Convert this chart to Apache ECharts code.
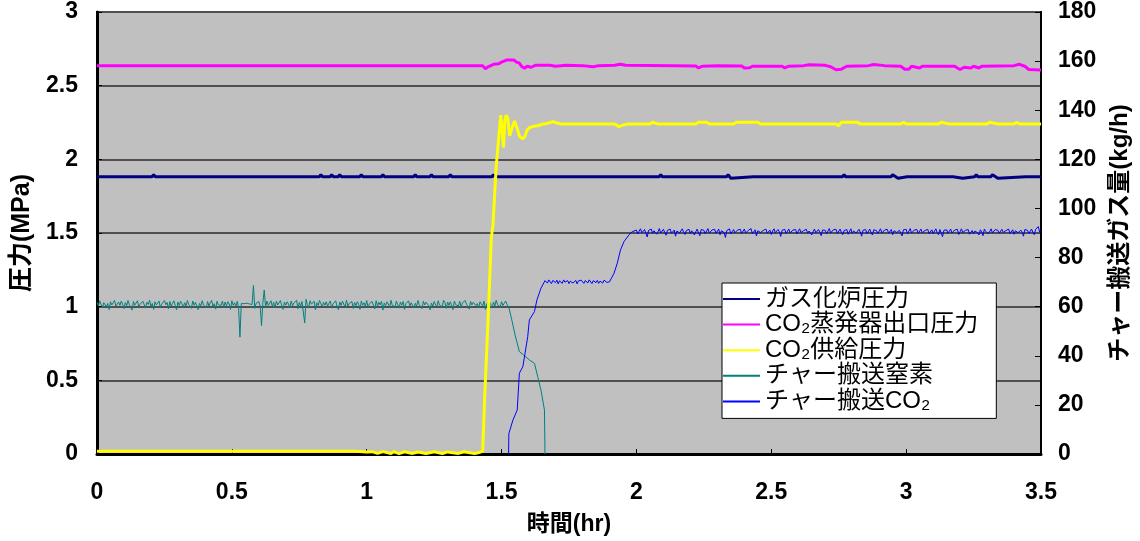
<!DOCTYPE html>
<html>
<head>
<meta charset="utf-8">
<script src="https://cdn.jsdelivr.net/npm/echarts@6/dist/echarts.min.js"></script>
<style>
html,body{margin:0;padding:0;background:#fff;}
#chart{width:1140px;height:541px;}
</style>
</head>
<body>
<div id="chart"></div>
<script>
// ---------------- DATA ----------------
const seriesNames = ['ガス化炉圧力', 'CO₂蒸発器出口圧力', 'CO₂供給圧力', 'チャー搬送窒素', 'チャー搬送CO₂'];
const xTicks = [0, 0.5, 1, 1.5, 2, 2.5, 3, 3.5];          // 時間(hr)
const leftTicks = [0, 0.5, 1, 1.5, 2, 2.5, 3];            // 圧力(MPa)
const rightTicks = [0, 20, 40, 60, 80, 100, 120, 140, 160, 180]; // kg/h

// ガス化炉圧力 [hr, MPa]
const gasifierPressure = [
  [0,1.882],[0.204,1.882],[0.21,1.896],[0.216,1.882],[0.249,1.882],[0.255,1.894],[0.261,1.882],
  [0.354,1.882],[0.36,1.893],[0.366,1.882],[0.444,1.882],[0.45,1.871],[0.456,1.882],
  [0.494,1.882],[0.5,1.894],[0.506,1.882],[0.624,1.882],[0.63,1.895],[0.636,1.882],
  [0.694,1.882],[0.7,1.893],[0.706,1.882],[0.744,1.882],[0.75,1.893],[0.756,1.882],
  [0.784,1.882],[0.79,1.871],[0.796,1.882],[0.824,1.882],[0.83,1.896],[0.836,1.882],
  [0.864,1.882],[0.87,1.896],[0.876,1.882],[0.894,1.882],[0.9,1.896],[0.906,1.882],
  [0.974,1.882],[0.98,1.896],[0.986,1.882],[1.054,1.882],[1.06,1.896],[1.066,1.882],
  [1.104,1.882],[1.11,1.893],[1.116,1.882],[1.174,1.882],[1.18,1.896],[1.186,1.882],
  [1.234,1.882],[1.24,1.896],[1.246,1.882],[1.304,1.882],[1.31,1.896],[1.316,1.882],
  [1.374,1.882],[1.38,1.895],[1.386,1.882],[1.464,1.882],[1.47,1.896],[1.476,1.882],
  [1.524,1.882],[1.53,1.871],[1.536,1.882],[1.554,1.882],[1.56,1.894],[1.566,1.882],
  [1.594,1.882],[1.6,1.895],[1.606,1.882],[1.884,1.882],[1.89,1.893],[1.896,1.882],
  [1.964,1.882],[1.97,1.893],[1.976,1.882],[2.084,1.882],[2.09,1.896],[2.096,1.882],
  [2.244,1.882],[2.25,1.893],[2.256,1.882],[2.284,1.882],[2.29,1.893],[2.296,1.882],
  [2.334,1.882],[2.34,1.896],[2.35,1.871],[2.356,1.882],[2.434,1.882],[2.44,1.893],[2.446,1.882],
  [2.584,1.882],[2.59,1.871],[2.596,1.882],[2.704,1.882],[2.71,1.894],[2.716,1.882],
  [2.764,1.882],[2.77,1.896],[2.776,1.882],[2.854,1.882],[2.86,1.893],[2.866,1.882],
  [2.944,1.882],[2.95,1.896],[2.97,1.871],[2.976,1.882],[3.004,1.882],[3.01,1.894],[3.016,1.882],
  [3.074,1.882],[3.08,1.894],[3.086,1.882],[3.174,1.882],[3.18,1.893],[3.21,1.871],[3.216,1.882],
  [3.254,1.882],[3.26,1.896],[3.266,1.882],[3.314,1.882],[3.32,1.896],[3.34,1.871],[3.346,1.882],
  [3.444,1.882],[3.45,1.893],[3.456,1.882],[3.5,1.882]
];

// CO2蒸発器出口圧力 [hr, MPa]
const evaporatorPressure = [
  [0,2.636],[1.43,2.636],[1.44,2.614],[1.45,2.628],[1.47,2.645],[1.49,2.648],[1.5,2.66],
  [1.52,2.675],[1.545,2.675],[1.555,2.66],[1.565,2.655],[1.575,2.63],[1.585,2.618],[1.595,2.632],
  [1.61,2.625],[1.625,2.638],[1.68,2.638],[1.7,2.632],[1.74,2.638],[1.8,2.636],[1.84,2.628],
  [1.86,2.636],[1.92,2.638],[1.94,2.645],[1.96,2.638],[2.22,2.634],[2.23,2.62],[2.245,2.632],
  [2.3,2.636],[2.39,2.634],[2.4,2.62],[2.42,2.622],[2.43,2.632],[2.54,2.632],[2.55,2.62],
  [2.565,2.632],[2.62,2.636],[2.64,2.642],[2.7,2.638],[2.72,2.628],[2.74,2.608],[2.76,2.612],
  [2.78,2.632],[2.86,2.636],[2.88,2.644],[2.92,2.636],[2.98,2.632],[2.995,2.612],[3.01,2.612],
  [3.02,2.632],[3.05,2.62],[3.06,2.632],[3.18,2.632],[3.19,2.62],[3.2,2.61],[3.215,2.625],
  [3.24,2.62],[3.25,2.632],[3.27,2.62],[3.28,2.632],[3.4,2.636],[3.42,2.645],[3.44,2.632],
  [3.455,2.61],[3.5,2.607]
];

// CO2供給圧力 [hr, MPa]
const supplyPressure = [
  [0,0.018],[0.96,0.018],[0.965,0.005],[1.0,0.014],[1.02,0.016],[1.04,0.004],[1.06,0.016],
  [1.09,0.004],[1.1,0.016],[1.12,0.003],[1.14,0.015],[1.17,0.004],[1.19,0.014],[1.22,0.003],
  [1.25,0.015],[1.28,0.003],[1.3,0.014],[1.34,0.004],[1.36,0.015],[1.4,0.004],[1.42,0.012],
  [1.43,0.02],[1.437,0.37],[1.45,0.91],[1.462,1.47],[1.468,1.55],[1.48,1.95],[1.49,2.16],
  [1.497,2.3],[1.503,2.3],[1.507,2.08],[1.512,2.26],[1.517,2.3],[1.523,2.28],[1.53,2.16],
  [1.54,2.22],[1.548,2.26],[1.556,2.22],[1.567,2.155],[1.577,2.14],[1.585,2.15],[1.595,2.2],
  [1.604,2.215],[1.62,2.225],[1.634,2.228],[1.65,2.238],[1.671,2.245],[1.69,2.256],[1.7,2.25],
  [1.72,2.24],[1.8,2.24],[1.92,2.24],[1.935,2.222],[1.95,2.232],[1.97,2.24],[2.05,2.24],
  [2.06,2.252],[2.08,2.24],[2.22,2.24],[2.23,2.252],[2.26,2.252],[2.27,2.24],[2.36,2.24],
  [2.37,2.252],[2.45,2.252],[2.46,2.24],[2.74,2.24],[2.75,2.228],[2.76,2.252],[2.82,2.252],
  [2.83,2.24],[2.98,2.24],[2.99,2.252],[3.0,2.24],[3.12,2.24],[3.13,2.252],[3.16,2.24],
  [3.3,2.24],[3.31,2.252],[3.34,2.24],[3.4,2.24],[3.41,2.252],[3.42,2.24],[3.5,2.24]
];

// チャー搬送窒素 (kg/h): readings every 0.005 hr from 0.000 to 1.525, then the decline [hr, kg/h]
const n2Step = 0.005;
const n2Flow = [
  61.8,60.3,62.4,60.9,59.5,61.6,62.2,60.1,61.3,58.8,
  62.0,60.7,61.5,62.6,60.2,59.7,61.9,60.5,62.3,61.0,
  59.2,61.7,60.4,62.5,60.8,61.2,58.6,62.1,60.6,61.4,
  62.4,59.9,61.0,60.3,62.2,61.6,59.4,61.8,60.9,62.6,
  60.1,61.3,58.9,62.0,60.7,61.5,62.3,59.6,61.1,60.4,
  62.5,60.8,61.7,59.1,62.1,60.2,61.4,62.4,60.6,58.7,
  61.9,60.5,62.2,61.2,59.8,61.6,60.3,62.5,60.9,61.0,
  59.3,62.3,60.6,61.8,62.0,58.8,61.3,60.4,62.4,60.7,
  61.5,59.5,62.1,60.2,61.7,62.6,60.0,61.2,59.0,62.2,
  60.8,61.4,60.5,62.3,59.7,61.9,60.3,62.0,61.1,58.9,
  62.4,60.6,61.6,60.1,62.2,59.4,47.6,61.3,61.0,61.2,
  61.6,61.4,61.3,61.1,61.0,60.9,68.6,59.3,61.4,60.8,
  62.1,60.2,52.3,61.7,66.8,59.8,62.3,60.5,61.2,62.4,
  60.0,61.8,59.5,62.2,60.7,61.4,62.5,60.3,58.9,61.9,
  60.6,62.0,61.1,59.6,62.3,60.4,61.5,60.9,62.6,59.2,
  61.7,60.1,62.1,61.3,53.4,63.0,60.8,59.7,62.4,61.0,
  60.3,62.2,58.7,61.6,60.5,62.5,61.2,59.9,61.8,60.6,
  62.0,60.2,61.4,62.3,59.4,61.1,60.7,62.4,60.0,58.8,
  61.9,60.5,62.2,61.5,59.8,62.6,60.3,61.3,60.9,62.1,
  59.3,61.7,60.4,62.0,61.0,58.9,62.3,60.6,61.6,60.1,
  62.5,59.6,61.2,60.8,62.1,61.4,59.1,62.4,60.2,61.8,
  60.7,62.2,58.6,61.5,60.4,62.0,61.1,59.7,62.6,60.5,
  61.3,60.0,62.3,61.7,59.4,61.9,60.6,62.1,58.9,61.2,
  60.9,62.4,60.3,61.6,62.0,59.5,61.4,60.1,62.5,60.8,
  61.0,59.2,62.2,60.7,61.8,62.3,60.4,58.7,61.5,60.2,
  62.1,61.3,59.8,62.4,60.6,61.1,60.0,62.6,61.7,59.3,
  61.9,60.5,62.0,61.2,58.8,62.3,60.8,61.4,60.3,62.2,
  59.6,61.6,60.9,62.5,61.0,60.1,59.0,62.1,60.7,61.8,
  62.4,60.4,61.3,59.7,62.0,61.5,60.2,62.3,58.9,61.1,
  60.6,62.2,61.7,59.4,61.9,60.3,62.6,60.8,61.2,59.9,
  62.0,60.5,61.4,62.3,60.9,61.6
];
const n2Decline = [
  [1.527,59.7],[1.538,54.6],[1.55,48.5],[1.566,41.7],[1.582,40.3],[1.603,38.3],
  [1.622,36.9],[1.634,31.5],[1.646,26.1],[1.659,17.9],[1.661,0]
];

// チャー搬送CO2 (kg/h)
const co2Rise1 = [
  [1.526,0],[1.527,8.3],[1.542,13.8],[1.558,17.9],[1.566,32.9],[1.579,35.6],[1.587,41],
  [1.597,47.8],[1.603,54.6],[1.622,58],[1.631,62.7],[1.646,67.5],[1.661,70.6]
];
const co2Step = 0.005;
const co2PlateauStart = 1.665;
const co2Plateau = [
  70.3,69.6,70.9,70.1,69.4,70.7,70.0,69.8,70.8,69.3,
  70.5,70.2,69.5,70.9,70.0,69.7,70.6,69.4,70.4,70.8,
  69.6,70.1,70.7,69.3,70.5,69.9,70.8,70.2,69.5,70.6,
  70.0,69.7,70.9,70.3,69.4,70.6,70.1,69.8,70.7,69.5,
  70.4,70.0,69.6,70.8,70.2,69.9,70.5,70.1
];
const co2Rise2 = [
  [1.904,70.2],[1.917,73.6],[1.929,77.7],[1.941,83.1],[1.954,86.5],[1.972,89.2],[1.984,90.5]
];
const co2LevelStart = 2.0;
const co2Level = [
  91.2,89.6,90.8,91.7,90.1,89.3,91.4,90.6,88.4,91.0,
  90.3,91.6,89.8,90.9,91.3,89.5,90.5,91.8,90.0,89.7,
  91.5,90.2,89.1,91.1,90.7,91.6,89.9,90.4,91.2,88.7,
  90.8,91.4,90.0,89.6,91.7,90.3,89.4,91.0,90.6,91.5,
  89.8,90.9,91.3,89.2,90.5,91.6,90.1,88.9,91.4,90.7,
  91.1,89.7,90.3,91.8,90.0,89.5,91.2,90.8,91.5,89.9,
  90.4,91.6,89.3,90.9,91.3,90.2,88.2,91.0,90.6,91.7,
  89.6,90.5,91.4,90.1,89.4,91.2,90.8,91.5,89.8,90.3,
  91.6,90.0,89.2,91.1,90.7,91.8,89.7,90.4,91.3,88.8,
  90.9,91.5,90.2,89.5,91.0,90.6,91.6,89.9,90.3,91.2,
  89.4,90.8,91.7,90.1,89.6,91.4,90.5,88.6,91.1,90.7,
  91.5,89.8,90.3,91.6,90.0,89.3,91.2,90.9,91.4,89.7,
  90.4,91.7,90.2,89.5,91.0,90.6,91.5,89.9,90.8,91.3,
  89.2,90.5,91.6,90.1,89.7,91.4,90.3,88.9,91.2,90.8,
  91.1,89.6,90.4,91.8,90.0,89.4,91.3,90.7,91.5,89.8,
  90.6,91.6,90.2,89.3,91.0,90.9,91.4,89.5,90.3,91.7,
  89.9,90.8,91.2,90.0,89.6,91.5,90.4,88.7,91.1,90.6,
  91.4,89.7,90.5,91.6,90.1,89.2,91.3,90.8,91.0,89.8,
  90.3,91.7,90.0,89.5,91.2,90.6,91.5,89.9,90.7,91.4,
  89.3,90.9,91.6,90.2,89.7,91.1,90.4,88.8,91.3,90.5,
  91.5,89.6,90.3,91.8,90.0,89.4,91.2,90.7,91.4,89.9,
  90.6,91.6,90.1,89.5,91.0,90.8,91.5,89.7,90.4,91.3,
  89.8,90.5,91.7,90.2,89.3,91.4,90.6,88.5,91.1,90.9,
  91.3,89.9,90.4,91.6,90.0,89.6,91.2,90.7,91.5,89.4,
  90.5,91.7,90.2,89.8,91.1,90.6,91.4,89.5,90.3,91.0,
  89.7,90.8,91.5,90.1,89.2,91.3,90.4,88.9,91.6,90.7,
  91.2,89.6,90.3,91.7,90.0,89.5,91.4,90.8,91.1,89.9,
  90.4,91.5,90.2,89.4,91.0,90.6,91.6,89.8,90.5,91.3,
  89.5,90.9,91.7,90.1,89.7,91.2,90.3,88.7,91.4,90.6,
  91.1,89.8,90.5,91.6,90.2,89.3,91.5,90.7,92.6,90.4,
  90.5
];

// ---------------- BUILD ----------------
const stepped = (start, step, arr) => arr.map((v, i) => [+(start + i * step).toFixed(3), v]);
const n2Data = stepped(0, n2Step, n2Flow).concat(n2Decline);
const co2Data = co2Rise1
  .concat(stepped(co2PlateauStart, co2Step, co2Plateau))
  .concat(co2Rise2)
  .concat(stepped(co2LevelStart, co2Step, co2Level));

const LAT = '"Liberation Sans", "Noto Sans CJK JP", sans-serif';
const colors = ['#000080', '#ff00ff', '#ffff00', '#008080', '#0000ff'];

const chart = echarts.init(document.getElementById('chart'), null, {renderer: 'canvas'});
chart.setOption({
  animation: false,
  backgroundColor: '#ffffff',
  color: colors,
  grid: {
    left: 97, right: 94, top: 12, bottom: 87,
    show: true, backgroundColor: '#c0c0c0', borderColor: '#000', borderWidth: 2
  },
  legend: {
    orient: 'vertical',
    left: 722, top: 283,
    backgroundColor: '#ffffff', borderColor: '#000', borderWidth: 1,
    padding: [4, 18, 5, 0],
    itemGap: 1.6,
    itemWidth: 37, itemHeight: 14,
    itemStyle: {opacity: 0},
    data: seriesNames,
    textStyle: {fontFamily: LAT, fontSize: 24, lineHeight: 24, color: '#000'}
  },
  xAxis: {
    type: 'value', min: xTicks[0], max: xTicks[xTicks.length - 1], interval: 0.5,
    name: '時間(hr)', nameLocation: 'middle', nameGap: 59,
    nameTextStyle: {fontFamily: LAT, fontSize: 23, fontWeight: 'bold', color: '#000'},
    axisLine: {show: true, lineStyle: {color: '#000', width: 3}},
    axisTick: {show: true, inside: true, length: 5, lineStyle: {color: '#000', width: 1}},
    axisLabel: {margin: 27, fontFamily: LAT, fontSize: 23, fontWeight: 'bold', color: '#000',
      formatter: v => String(v)},
    splitLine: {show: false}
  },
  yAxis: [
    {
      type: 'value', min: leftTicks[0], max: leftTicks[leftTicks.length - 1], interval: 0.5,
      position: 'left',
      name: '圧力(MPa)', nameLocation: 'middle', nameGap: 62, nameRotate: 90,
      nameTextStyle: {fontFamily: LAT, fontSize: 25, fontWeight: 'bold', color: '#000'},
      axisLine: {show: true, lineStyle: {color: '#000', width: 3}},
      axisTick: {show: true, inside: true, length: 5, lineStyle: {color: '#000'}},
      axisLabel: {margin: 19, fontFamily: LAT, fontSize: 23, fontWeight: 'bold', color: '#000',
        formatter: v => String(v)},
      splitLine: {show: true, lineStyle: {color: '#505050', width: 2}}
    },
    {
      type: 'value', min: rightTicks[0], max: rightTicks[rightTicks.length - 1], interval: 20,
      position: 'right',
      name: 'チャー搬送ガス量(kg/h)', nameLocation: 'middle', nameGap: 67, nameRotate: 90,
      nameTextStyle: {fontFamily: LAT, fontSize: 24, fontWeight: 'bold', color: '#000'},
      axisLine: {show: true, lineStyle: {color: '#000', width: 2}},
      axisTick: {show: true, inside: true, length: 6, lineStyle: {color: '#000'}},
      axisLabel: {margin: 17, fontFamily: LAT, fontSize: 23, fontWeight: 'bold', color: '#000'},
      splitLine: {show: false}
    }
  ],
  series: [
    {name: seriesNames[0], type: 'line', data: gasifierPressure, yAxisIndex: 0, symbol: 'none',
      lineStyle: {width: 3, color: colors[0]}, z: 3},
    {name: seriesNames[1], type: 'line', data: evaporatorPressure, yAxisIndex: 0, symbol: 'none',
      lineStyle: {width: 3, color: colors[1]}, z: 3},
    {name: seriesNames[2], type: 'line', data: supplyPressure, yAxisIndex: 0, symbol: 'none',
      lineStyle: {width: 3, color: colors[2]}, z: 5},
    {name: seriesNames[3], type: 'line', data: n2Data, yAxisIndex: 1, symbol: 'none',
      lineStyle: {width: 1, color: colors[3]}, z: 4},
    {name: seriesNames[4], type: 'line', data: co2Data, yAxisIndex: 1, symbol: 'none',
      lineStyle: {width: 1, color: colors[4]}, z: 4}
  ]
});
</script>
</body>
</html>
